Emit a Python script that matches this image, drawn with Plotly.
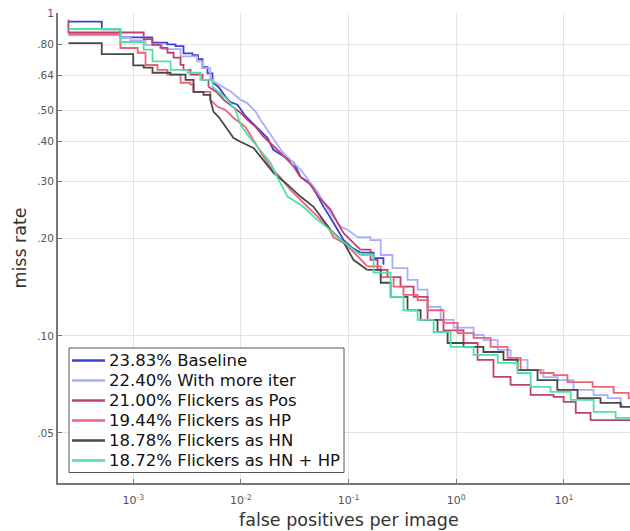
import math
import plotly.graph_objects as go

# ---------------- data ----------------
labels = ["23.83% Baseline", "22.40% With more iter", "21.00% Flickers as Pos",
          "19.44% Flickers as HP", "18.78% Flickers as HN", "18.72% Flickers as HN + HP"]

baseline_fppi = [2.5e-4, 5.1e-4, 7.6e-4, 1.5e-3, 2.07e-3, 2.47e-3, 2.93e-3, 3.55e-3, 4.0e-3, 4.4e-3,
                 4.9e-3, 5.45e-3, 6.2e-3, 7.2e-3, 8.0e-3, 9.3e-3, 0.011, 0.0143, 0.0177, 0.020,
                 0.025, 0.031, 0.036, 0.042, 0.047, 0.059, 0.068, 0.079, 0.090, 0.109, 0.129,
                 0.171, 0.211]
baseline_mr = [0.94, 0.89, 0.84, 0.81, 0.80, 0.79, 0.75, 0.74, 0.72, 0.68,
               0.65, 0.61, 0.59, 0.55, 0.53, 0.52, 0.48, 0.44, 0.41, 0.377,
               0.359, 0.344, 0.31, 0.30, 0.287, 0.25, 0.232, 0.213, 0.198, 0.187, 0.181,
               0.174, 0.166]

moreiter_fppi = [2.5e-4, 7.6e-4, 9.4e-4, 1.3e-3, 1.86e-3, 2.75e-3, 3.93e-3, 4.38e-3, 5.2e-3, 6.24e-3,
                 8.0e-3, 9.9e-3, 0.01146, 0.0137, 0.0152, 0.0176, 0.0202, 0.0242, 0.0289, 0.0358,
                 0.0443, 0.0515, 0.059, 0.068, 0.0843, 0.098, 0.121, 0.160, 0.199, 0.256,
                 0.353, 0.438, 0.542, 0.716, 0.946, 1.45, 1.80, 2.43, 3.20, 4.60,
                 6.48, 8.75, 12.3, 18.9, 25.5, 33.7, 35.5]
moreiter_mr = [0.853, 0.837, 0.822, 0.797, 0.773, 0.734, 0.708, 0.675, 0.621, 0.600,
               0.572, 0.539, 0.526, 0.495, 0.467, 0.435, 0.405, 0.372, 0.351, 0.327,
               0.298, 0.279, 0.258, 0.240, 0.218, 0.213, 0.202, 0.198, 0.178, 0.162,
               0.149, 0.139, 0.123, 0.112, 0.106, 0.1006, 0.097, 0.0904, 0.0842, 0.0783,
               0.0745, 0.0729, 0.0680, 0.0655, 0.0641, 0.0610, 0.0610]

pos_fppi = [2.5e-4, 2.5e-4, 1.25e-3, 1.51e-3, 1.79e-3, 2.08e-3, 2.37e-3, 2.75e-3, 2.93e-3, 3.4e-3,
            4.4e-3, 5.0e-3, 6.07e-3, 6.9e-3, 8.0e-3, 9.9e-3, 0.0115, 0.0137, 0.0162, 0.0196,
            0.0233, 0.0271, 0.031, 0.0358, 0.0443, 0.0526, 0.068, 0.079, 0.090, 0.111,
            0.129, 0.160, 0.186, 0.230, 0.304, 0.402, 0.542, 0.763, 1.17, 1.58,
            2.22, 3.20, 4.91, 8.03, 9.95, 12.9, 17.7, 50]
pos_mr = [0.953, 0.870, 0.830, 0.797, 0.780, 0.753, 0.727, 0.691, 0.667, 0.644,
          0.621, 0.591, 0.566, 0.539, 0.520, 0.491, 0.467, 0.444, 0.414, 0.391,
          0.369, 0.351, 0.334, 0.310, 0.294, 0.270, 0.246, 0.224, 0.208, 0.194,
          0.185, 0.172, 0.160, 0.152, 0.142, 0.132, 0.112, 0.104, 0.095, 0.0842,
          0.0746, 0.0705, 0.0656, 0.0647, 0.0624, 0.0577, 0.0548, 0.0548]

hp_fppi = [2.5e-4, 7.6e-4, 1.10e-3, 1.30e-3, 1.68e-3, 2.08e-3, 2.75e-3, 3.4e-3, 3.63e-3, 5.2e-3,
           6.07e-3, 7.2e-3, 8.55e-3, 0.011, 0.0123, 0.0146, 0.0162, 0.0188, 0.0233, 0.0289,
           0.0358, 0.0515, 0.0638, 0.0726, 0.090, 0.111, 0.150, 0.199, 0.262, 0.324,
           0.438, 0.542, 0.763, 1.03, 1.45, 2.09, 3.0, 3.97, 6.08, 8.03,
           10.8, 18.5, 29.0, 40, 50]
hp_mr = [0.861, 0.779, 0.753, 0.690, 0.667, 0.644, 0.608, 0.600, 0.570, 0.539,
         0.512, 0.501, 0.473, 0.444, 0.417, 0.377, 0.359, 0.334, 0.309, 0.283,
         0.264, 0.234, 0.218, 0.202, 0.194, 0.182, 0.164, 0.152, 0.142, 0.134,
         0.129, 0.120, 0.1096, 0.102, 0.0986, 0.0924, 0.0855, 0.0783, 0.0767, 0.0756,
         0.0719, 0.0695, 0.0666, 0.0641, 0.0641]

hn_fppi = [2.5e-4, 5.1e-4, 1.0e-3, 1.25e-3, 1.51e-3, 2.22e-3, 3.06e-3, 3.63e-3, 4.5e-3, 5.2e-3,
           5.57e-3, 6.2e-3, 7.5e-3, 8.55e-3, 9.9e-3, 0.0131, 0.0152, 0.0201, 0.0271, 0.0358,
           0.0473, 0.055, 0.068, 0.090, 0.111, 0.150, 0.199, 0.246, 0.353, 0.467,
           0.671, 0.832, 1.17, 1.79, 2.75, 3.72, 5.70, 8.7, 13.4, 21.9,
           33.6, 50]
hn_mr = [0.807, 0.746, 0.688, 0.677, 0.653, 0.644, 0.621, 0.570, 0.558, 0.539,
         0.494, 0.477, 0.435, 0.410, 0.399, 0.382, 0.359, 0.320, 0.294, 0.270,
         0.251, 0.234, 0.213, 0.195, 0.172, 0.160, 0.146, 0.132, 0.120, 0.112,
         0.1027, 0.095, 0.0924, 0.0891, 0.0842, 0.0783, 0.0729, 0.0680, 0.0641, 0.0620,
         0.0602, 0.0602]

hnhp_fppi = [2.5e-4, 7.6e-4, 1.25e-3, 1.51e-3, 2.22e-3, 3.19e-3, 4.2e-3, 5.45e-3, 7.5e-3, 8.9e-3,
             9.9e-3, 0.0115, 0.0137, 0.0159, 0.0188, 0.0219, 0.0271, 0.0382, 0.0473, 0.0638,
             0.079, 0.098, 0.129, 0.171, 0.246, 0.324, 0.438, 0.617, 0.887, 1.45,
             2.43, 3.72, 4.91, 7.53, 11.6, 18.9, 30.3, 50]
hnhp_mr = [0.892, 0.813, 0.770, 0.708, 0.667, 0.653, 0.621, 0.591, 0.539, 0.501,
           0.451, 0.420, 0.391, 0.369, 0.344, 0.309, 0.270, 0.251, 0.234, 0.216,
           0.202, 0.191, 0.178, 0.157, 0.132, 0.120, 0.112, 0.1027, 0.0924, 0.0873,
           0.0825, 0.0767, 0.0695, 0.0670, 0.0633, 0.0581, 0.0557, 0.0557]

colors = ["rgb(64,64,208)", "rgb(168,174,250)", "rgb(190,66,112)",
          "rgb(236,98,120)", "rgb(72,72,72)", "rgb(78,226,162)"]

y_tickvals = [0.05, 0.1, 0.2, 0.3, 0.4, 0.5, 0.64, 0.8, 1]
y_ticktext = [".05", ".10", ".20", ".30", ".40", ".50", ".64", ".80", "1"]
x_tickvals = [1e-3, 1e-2, 1e-1, 1, 10]
x_ticktext = ["10<sup>-3</sup>", "10<sup>-2</sup>", "10<sup>-1</sup>", "10<sup>0</sup>", "10<sup>1</sup>"]

series = [(baseline_fppi, baseline_mr), (moreiter_fppi, moreiter_mr), (pos_fppi, pos_mr),
          (hp_fppi, hp_mr), (hn_fppi, hn_mr), (hnhp_fppi, hnhp_mr)]

# where the staircase is dense enough to look like a continuous line
dense_from, dense_to = 5e-3, 0.12

# ---------------- figure ----------------
W, H = 630, 531
ML, MR, MT, MB = 58, 0, 13, 48
PW, PH = W - ML - MR, H - MT - MB
x_lo = math.log10(2e-4)
px_per_decade = 107.65
x_hi = x_lo + PW / px_per_decade


def px(xpix):
    return (xpix - ML) / PW


def py(ypix):
    return (H - MB - ypix) / PH


fig = go.Figure()
for (fx, my), name, col in zip(series, labels, colors):
    n = len(fx)
    i0 = next((i for i in range(n) if fx[i] >= dense_from), n - 1)
    i1 = next((i for i in range(n) if fx[i] >= dense_to), n - 1)
    parts = [(0, i0, "hv"), (i0, i1, "linear"), (i1, n - 1, "hv")]
    for a, b, shape in parts:
        if b <= a:
            continue
        fig.add_trace(go.Scatter(x=fx[a:b + 1], y=my[a:b + 1], mode="lines", name=name,
                                 legendgroup=name, showlegend=False, hoverinfo="skip",
                                 line=dict(color=col, width=1.8, shape=shape)))

font_family = "DejaVu Sans"

# legend box (compact row spacing as in the reference)
shapes = [dict(type="rect", xref="paper", yref="paper", x0=px(69), x1=px(344),
               y0=py(472.5), y1=py(348), fillcolor="white",
               line=dict(color="#555", width=1), layer="above")]
annotations = []
for i, (name, col) in enumerate(zip(labels, colors)):
    yc = 360.5 + 20 * i
    shapes.append(dict(type="line", xref="paper", yref="paper", x0=px(72), x1=px(105),
                       y0=py(yc), y1=py(yc), line=dict(color=col, width=2.5), layer="above"))
    annotations.append(dict(text=name, xref="paper", yref="paper", x=px(107), y=py(yc),
                            xanchor="left", yanchor="middle", showarrow=False,
                            font=dict(family=font_family, size=16.5, color="#111")))

annotations.append(dict(text="false positives per image", xref="paper", yref="paper",
                        x=px(348.5), y=py(520), xanchor="center", yanchor="middle",
                        showarrow=False, font=dict(size=17.5, color="#333", family=font_family)))

fig.update_layout(
    width=W, height=H,
    margin=dict(l=ML, r=MR, t=MT, b=MB),
    paper_bgcolor="white", plot_bgcolor="white",
    font=dict(family=font_family, color="#333"),
    showlegend=False,
    xaxis=dict(type="log", range=[x_lo, x_hi], tickvals=x_tickvals, ticktext=x_ticktext,
               ticks="inside", ticklen=4, tickcolor="#777", tickwidth=1,
               showline=True, linecolor="#777", linewidth=2,
               showgrid=True, gridcolor="#e4e4e4", gridwidth=1, ticklabelstandoff=6,
               tickfont=dict(size=11, color="#555"), zeroline=False, mirror=False),
    yaxis=dict(type="log", range=[math.log10(0.035), 0], tickvals=y_tickvals, ticktext=y_ticktext,
               ticks="inside", ticklen=4, tickcolor="#777", tickwidth=1,
               showline=True, linecolor="#777", linewidth=2,
               showgrid=True, gridcolor="#e4e4e4", gridwidth=1,
               tickfont=dict(size=10.5, color="#555"), zeroline=False,
               title=dict(text="miss rate", font=dict(size=17.5, color="#333"), standoff=6)),
    shapes=shapes,
    annotations=annotations,
)

fig.write_html("out.html")
